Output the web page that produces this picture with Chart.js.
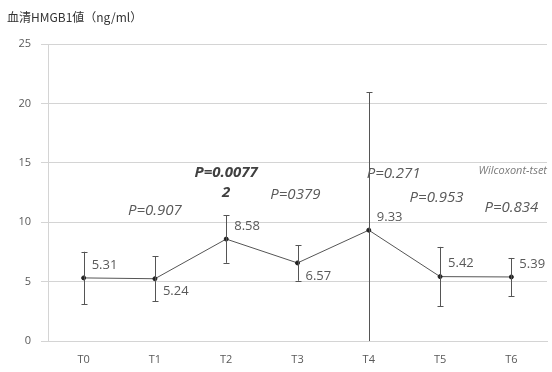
<!DOCTYPE html>
<html>
<head>
<meta charset="utf-8">
<script src="https://cdn.jsdelivr.net/npm/chart.js@4.4.1/dist/chart.umd.min.js"></script>
<style>
  html, body { margin: 0; padding: 0; background: #fff; }
  #wrap { width: 552px; height: 372px; position: relative; }
</style>
</head>
<body>
<div id="wrap"><canvas id="c" width="552" height="372"></canvas></div>
<script>
// Serum HMGB1 by time point: mean and spread
const categories = ['T0', 'T1', 'T2', 'T3', 'T4', 'T5', 'T6'];
const means = [5.31, 5.24, 8.58, 6.57, 9.33, 5.42, 5.39];
const spread = [2.2, 1.9, 2.0, 1.5, 11.6, 2.5, 1.6];
const yTicks = [0, 5, 10, 15, 20, 25];
const pValues = ['P=0.907', 'P=0.00772', 'P=0379', 'P=0.271', 'P=0.953', 'P=0.834'];
const testName = 'Wilcoxont-tset';
const titleText = '血清HMGB1値（ng/ml）';

const GRID = '#d4d4d4';
const TEXT = '#595959';
const LINE = '#555555';
const FONT = '"Open Sans", "Noto Sans", sans-serif';

// whiskers, value labels and test annotations
const overlay = {
  id: 'overlay',
  afterDatasetsDraw(chart) {
    const ctx = chart.ctx;
    const xs = chart.scales.x, ys = chart.scales.y;
    const area = chart.chartArea;
    ctx.save();
    ctx.beginPath();
    ctx.rect(area.left, area.top, area.right - area.left, area.bottom - area.top);
    ctx.clip();
    ctx.strokeStyle = LINE;
    ctx.lineWidth = 1;
    means.forEach((m, i) => {
      const x = Math.round(xs.getPixelForValue(i)) + 0.5;
      const yt = ys.getPixelForValue(m + spread[i]);
      const yb = ys.getPixelForValue(m - spread[i]);
      ctx.beginPath();
      ctx.moveTo(x, yt); ctx.lineTo(x, yb);
      ctx.moveTo(x - 3, Math.round(yt) + 0.5); ctx.lineTo(x + 3, Math.round(yt) + 0.5);
      if (m - spread[i] > 0) {
        ctx.moveTo(x - 3, Math.round(yb) + 0.5); ctx.lineTo(x + 3, Math.round(yb) + 0.5);
      }
      ctx.stroke();
    });
    ctx.restore();

    // value labels next to each point
    ctx.save();
    ctx.font = '13px ' + FONT;
    ctx.fillStyle = TEXT;
    ctx.textAlign = 'left';
    ctx.textBaseline = 'middle';
    const below = [false, true, false, true, false, false, false];
    means.forEach((m, i) => {
      const x = xs.getPixelForValue(i) + 8;
      const y = ys.getPixelForValue(m) + (below[i] ? 13 : -13);
      ctx.fillText(m.toFixed(2), x, y);
    });
    ctx.restore();

    // test results between time points
    ctx.save();
    ctx.fillStyle = TEXT;
    ctx.textBaseline = 'middle';
    ctx.textAlign = 'center';
    const px = (v) => xs.getPixelForValue(v);
    const py = (v) => ys.getPixelForValue(v);
    ctx.font = 'italic 15px ' + FONT;
    ctx.fillText(pValues[0], px(1), py(11.0));
    ctx.fillText(pValues[2], px(2.97), py(12.3));
    ctx.fillText(pValues[4], px(4.95), py(12.1));
    ctx.fillText(pValues[5], px(6.0), py(11.2));
    ctx.textAlign = 'left';
    ctx.fillText(pValues[3], px(3.97), py(14.1));
    ctx.fillStyle = '#404040';
    ctx.textAlign = 'center';
    ctx.font = 'italic bold 15px ' + FONT;
    const strong = pValues[1];
    ctx.fillText(strong.slice(0, 8), px(2.0), py(14.2));
    ctx.fillText(strong.slice(8), px(2.0), py(12.45));
    ctx.fillStyle = '#7a7a7a';
    ctx.font = 'italic 11px ' + FONT;
    ctx.textAlign = 'right';
    ctx.fillText(testName, area.right, py(14.35));
    ctx.restore();

    // axis title
    ctx.save();
    ctx.fillStyle = '#333';
    ctx.font = '12px "Noto Sans CJK JP", sans-serif';
    ctx.textAlign = 'left';
    ctx.textBaseline = 'middle';
    ctx.fillText(titleText, 7, 17);
    ctx.restore();
  }
};

new Chart(document.getElementById('c'), {
  type: 'line',
  data: {
    labels: categories,
    datasets: [{
      data: means,
      borderColor: LINE,
      borderWidth: 1,
      pointRadius: 2,
      pointBackgroundColor: '#222',
      pointBorderColor: '#222',
      tension: 0
    }]
  },
  options: {
    responsive: false,
    animation: false,
    events: [],
    layout: { padding: { top: 44, right: 0, left: 0, bottom: 0 } },
    plugins: { legend: { display: false }, tooltip: { enabled: false } },
    scales: {
      x: {
        type: 'category',
        offset: true,
        grid: { display: false, drawTicks: false },
        border: { color: GRID },
        ticks: { color: TEXT, font: { family: FONT, size: 11 }, padding: 12 },
        afterFit(s) { s.height = 31; }
      },
      y: {
        min: 0, max: 25,
        afterBuildTicks(s) { s.ticks = yTicks.map(v => ({ value: v })); },
        grid: { color: GRID, tickLength: 7 },
        border: { color: GRID },
        ticks: { color: TEXT, font: { family: FONT, size: 11 }, padding: 10 },
        afterFit(s) { s.width = 48; }
      }
    }
  },
  plugins: [overlay]
});
</script>
</body>
</html>
